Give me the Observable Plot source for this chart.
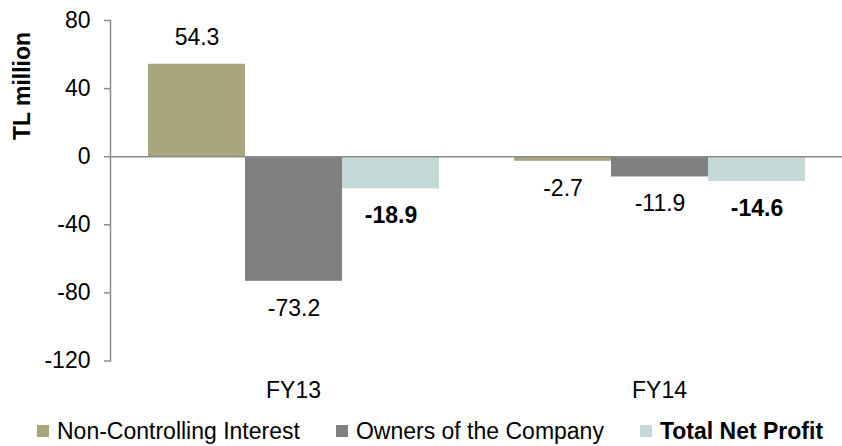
<!DOCTYPE html>
<html>
<head>
<meta charset="utf-8">
<script src="https://cdn.jsdelivr.net/npm/d3@7"></script>
<script src="https://cdn.jsdelivr.net/npm/@observablehq/plot@0.6"></script>
<style>
  html, body { margin: 0; padding: 0; background: #fff; }
  body { width: 842px; height: 446px; position: relative; overflow: hidden; font-family: "Liberation Sans", Arial, sans-serif; }
  #chart { position: absolute; left: 0; top: 0; }
  #ytitle { position: absolute; left: 22px; top: 86px; transform: translate(-50%, -50%) rotate(-90deg); font-weight: bold; font-size: 23px; white-space: nowrap; color: #000; }
  #legend { position: absolute; left: 37px; top: 418px; display: flex; align-items: center; font-size: 23px; line-height: 26px; color: #000; white-space: nowrap; }
  .item { display: flex; align-items: center; margin-right: 36px; }
  .sw { width: 12px; height: 12px; margin-right: 8px; }
</style>
</head>
<body>
<div id="chart"></div>
<div id="ytitle">TL million</div>
<div id="legend"></div>
<script>
const years = ["FY13", "FY14"];
const series = ["Non-Controlling Interest", "Owners of the Company", "Total Net Profit"];
const nci = [54.3, -2.7];
const owners = [-73.2, -11.9];
const total = [-18.9, -14.6];
const colors = ["#a9a67e", "#808080", "#c5d9d8"];
const yTicks = [-120, -80, -40, 0, 40, 80];

const data = years.flatMap((yr, i) =>
  [nci[i], owners[i], total[i]].map((v, j) => ({ year: yr, series: series[j], value: v }))
);

const isBold = d => d.series === "Total Net Profit";
const labelOpts = { fx: "year", x: "series", y: "value", text: d => d.value.toFixed(1), fontSize: 23, fill: "#000" };

const chart = Plot.plot({
  width: 842,
  height: 410,
  marginLeft: 110,
  marginRight: 0,
  marginTop: 20,
  marginBottom: 49.5,
  style: { fontFamily: "'Liberation Sans', Arial, sans-serif", fontSize: "23px", background: "white", overflow: "visible" },
  fx: { domain: years, padding: 0, label: null, axis: null },
  x: { domain: series, axis: null, paddingInner: 0, paddingOuter: 0.38 },
  y: { domain: [-120, 80], axis: null },
  color: { domain: series, range: colors },
  marks: [
    Plot.barY(data, { fx: "year", x: "series", y: "value", fill: "series" }),
    Plot.ruleY([0], { stroke: "#8c8c8c", strokeWidth: 1.5 }),
    Plot.frame({ anchor: "left", facetAnchor: "left", stroke: "#8c8c8c", strokeWidth: 1.5 }),
    Plot.axisY({ ticks: yTicks, tickSize: 6, tickPadding: 14, fontSize: 23, stroke: "#8c8c8c", strokeWidth: 1.5, label: null, tickFormat: d => d }),
    Plot.axisFx({ anchor: "bottom", tickSize: 0, tickPadding: 21, fontSize: 23, label: null }),
    Plot.text(data.filter(d => d.value >= 0 && !isBold(d)), { ...labelOpts, dy: -26.5 }),
    Plot.text(data.filter(d => d.value >= 0 && isBold(d)), { ...labelOpts, dy: -26.5, fontWeight: "bold" }),
    Plot.text(data.filter(d => d.value < 0 && !isBold(d)), { ...labelOpts, dy: 27 }),
    Plot.text(data.filter(d => d.value < 0 && isBold(d)), { ...labelOpts, dy: 27, fontWeight: "bold" })
  ]
});
document.getElementById("chart").appendChild(chart);

const legend = document.getElementById("legend");
series.forEach((s, i) => {
  const item = document.createElement("div");
  item.className = "item";
  const sw = document.createElement("div");
  sw.className = "sw";
  sw.style.background = colors[i];
  const lab = document.createElement("span");
  lab.textContent = s;
  if (s === "Total Net Profit") lab.style.fontWeight = "bold";
  item.appendChild(sw);
  item.appendChild(lab);
  legend.appendChild(item);
});
</script>
</body>
</html>
